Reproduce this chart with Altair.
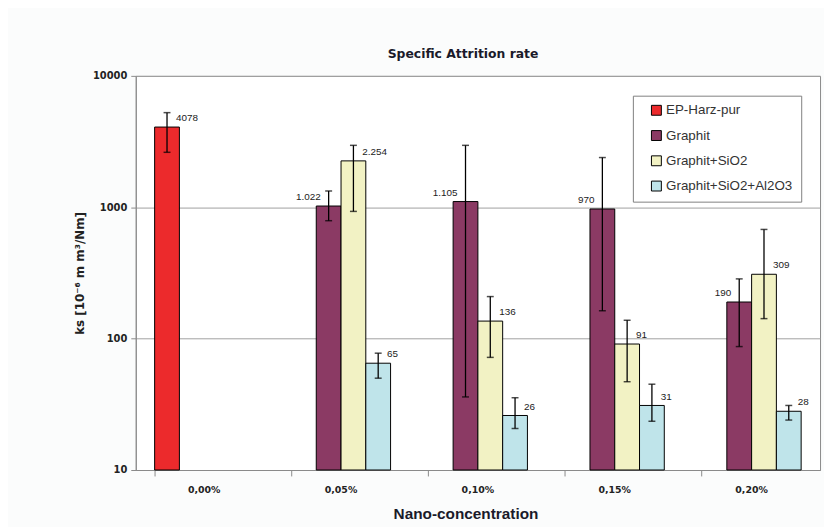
import altair as alt
import pandas as pd

categories = ["0,00%", "0,05%", "0,10%", "0,15%", "0,20%"]
series_names = ["EP-Harz-pur", "Graphit", "Graphit+SiO2", "Graphit+SiO2+Al2O3"]
series_colors = ["#ec2a2c", "#8b3a64", "#f2f2c4", "#bfe4ea"]

# values (None = no bar)
ep_harz = [4078, None, None, None, None]
graphit = [None, 1022, 1105, 970, 190]
graphit_sio2 = [None, 2254, 136, 91, 309]
graphit_sio2_al2o3 = [None, 65, 26, 31, 28]

# error bar upper / lower ends
ep_harz_hi = [5250, None, None, None, None]
ep_harz_lo = [2620, None, None, None, None]
graphit_hi = [None, 1330, 2960, 2390, 285]
graphit_lo = [None, 790, 36, 163, 87]
graphit_sio2_hi = [None, 2960, 209, 138, 678]
graphit_sio2_lo = [None, 930, 72, 47, 142]
graphit_sio2_al2o3_hi = [None, 77.5, 35.5, 45, 31]
graphit_sio2_al2o3_lo = [None, 50, 20.7, 23.5, 24]

# value labels as printed
ep_harz_lab = ["4078", None, None, None, None]
graphit_lab = [None, "1.022", "1.105", "970", "190"]
graphit_sio2_lab = [None, "2.254", "136", "91", "309"]
graphit_sio2_al2o3_lab = [None, "65", "26", "31", "28"]

y_ticks = [10, 100, 1000, 10000]

series_data = [
    (series_names[0], ep_harz, ep_harz_hi, ep_harz_lo, ep_harz_lab),
    (series_names[1], graphit, graphit_hi, graphit_lo, graphit_lab),
    (series_names[2], graphit_sio2, graphit_sio2_hi, graphit_sio2_lo, graphit_sio2_lab),
    (series_names[3], graphit_sio2_al2o3, graphit_sio2_al2o3_hi, graphit_sio2_al2o3_lo, graphit_sio2_al2o3_lab),
]

rows = []
for name, vals, his, los, labs in series_data:
    for cat, v, hi, lo, lab in zip(categories, vals, his, los, labs):
        if v is None:
            continue
        rows.append({"cat": cat, "series": name, "value": v, "hi": hi, "lo": lo, "label": lab})
df = pd.DataFrame(rows)

TICK_FONT = "DejaVu Sans"

x_enc = alt.X(
    "cat:N",
    scale=alt.Scale(domain=categories, paddingInner=0.276, paddingOuter=0.138),
    axis=alt.Axis(
        title="Nano-concentration",
        titleFont="Liberation Sans",
        titleFontSize=15.5,
        titleFontWeight="bold",
        titleColor="#1a1a2a",
        titleX=333,
        titleY=44,
        titleBaseline="middle",
        labelAngle=0,
        labelFont=TICK_FONT,
        labelFontSize=9.5,
        labelFontWeight="bold",
        labelColor="#222222",
        labelPadding=9,
        bandPosition=0,
        tickSize=6,
        tickColor="#8a8a8a",
        domainColor="#8a8a8a",
        grid=False,
    ),
)
xoff_enc = alt.XOffset(
    "series:N", scale=alt.Scale(domain=series_names, paddingInner=0, paddingOuter=0)
)
y_scale = alt.Scale(type="log", domain=[10, 10000])
y_axis = alt.Axis(
    title="ks [10⁻⁶ m m³/Nm]",
    titleFont="DejaVu Sans",
    titleFontSize=12,
    titleFontWeight="bold",
    titleColor="#222222",
    titleX=-57,
    titleY=199,
    titleBaseline="middle",
    values=y_ticks,
    format="d",
    labelFont=TICK_FONT,
    labelFontSize=10,
    labelFontWeight="bold",
    labelColor="#222222",
    labelPadding=4,
    tickSize=5,
    tickColor="#8a8a8a",
    domainColor="#8a8a8a",
    grid=True,
    gridColor="#a0a0a0",
    gridWidth=1,
)

base = alt.Chart(df)

bars = base.mark_bar(stroke="black", strokeWidth=1).encode(
    x=x_enc,
    xOffset=xoff_enc,
    y=alt.Y("value:Q", scale=y_scale, axis=y_axis),
    y2=alt.datum(10),
    color=alt.Color(
        "series:N",
        scale=alt.Scale(domain=series_names, range=series_colors),
        legend=alt.Legend(
            title=None,
            orient="none",
            legendX=502,
            legendY=20,
            fillColor="white",
            strokeColor="#808080",
            padding=8,
            symbolType="square",
            symbolSize=100,
            symbolStrokeColor="black",
            symbolStrokeWidth=1,
            symbolOffset=9,
            labelOffset=3,
            labelFont="Liberation Sans",
            labelFontSize=13.5,
            labelColor="#333333",
            rowPadding=10.5,
        ),
    ),
)

err = base.mark_rule(color="black", strokeWidth=1.3).encode(
    x=x_enc,
    xOffset=xoff_enc,
    y=alt.Y("hi:Q", scale=y_scale, axis=y_axis),
    y2="lo:Q",
)
cap_hi = base.mark_tick(color="black", thickness=1.5, size=7).encode(
    x=x_enc, xOffset=xoff_enc, y=alt.Y("hi:Q", scale=y_scale, axis=y_axis)
)
cap_lo = base.mark_tick(color="black", thickness=1.5, size=7).encode(
    x=x_enc, xOffset=xoff_enc, y=alt.Y("lo:Q", scale=y_scale, axis=y_axis)
)

lab_left = base.transform_filter(alt.datum.series == "Graphit").mark_text(
    align="right", baseline="middle", dx=-8, dy=-9,
    font="Liberation Sans", fontSize=10, color="#222222",
).encode(
    x=x_enc, xOffset=xoff_enc,
    y=alt.Y("value:Q", scale=y_scale, axis=y_axis),
    text="label:N",
)
lab_right = base.transform_filter(alt.datum.series != "Graphit").mark_text(
    align="left", baseline="middle", dx=9, dy=-9,
    font="Liberation Sans", fontSize=10, color="#222222",
).encode(
    x=x_enc, xOffset=xoff_enc,
    y=alt.Y("value:Q", scale=y_scale, axis=y_axis),
    text="label:N",
)

chart = (
    alt.layer(bars, err, cap_hi, cap_lo, lab_left, lab_right)
    .properties(
        width=691,
        height=398,
        autosize=alt.AutoSizeParams(type="none"),
        padding={"left": 129, "top": 66, "right": 4, "bottom": 55},
        background="#fbfcfc",
        title=alt.TitleParams(
            text="Specific Attrition rate",
            font="DejaVu Sans",
            fontSize=12.5,
            fontWeight="bold",
            color="#1a1a2a",
            anchor="middle",
            dx=-15,
            offset=11,
        ),
    )
    .configure_view(stroke="#8a8a8a", strokeWidth=1, fill="white")
)

chart.save("out.html", embed_options={"renderer": "svg", "actions": False})
